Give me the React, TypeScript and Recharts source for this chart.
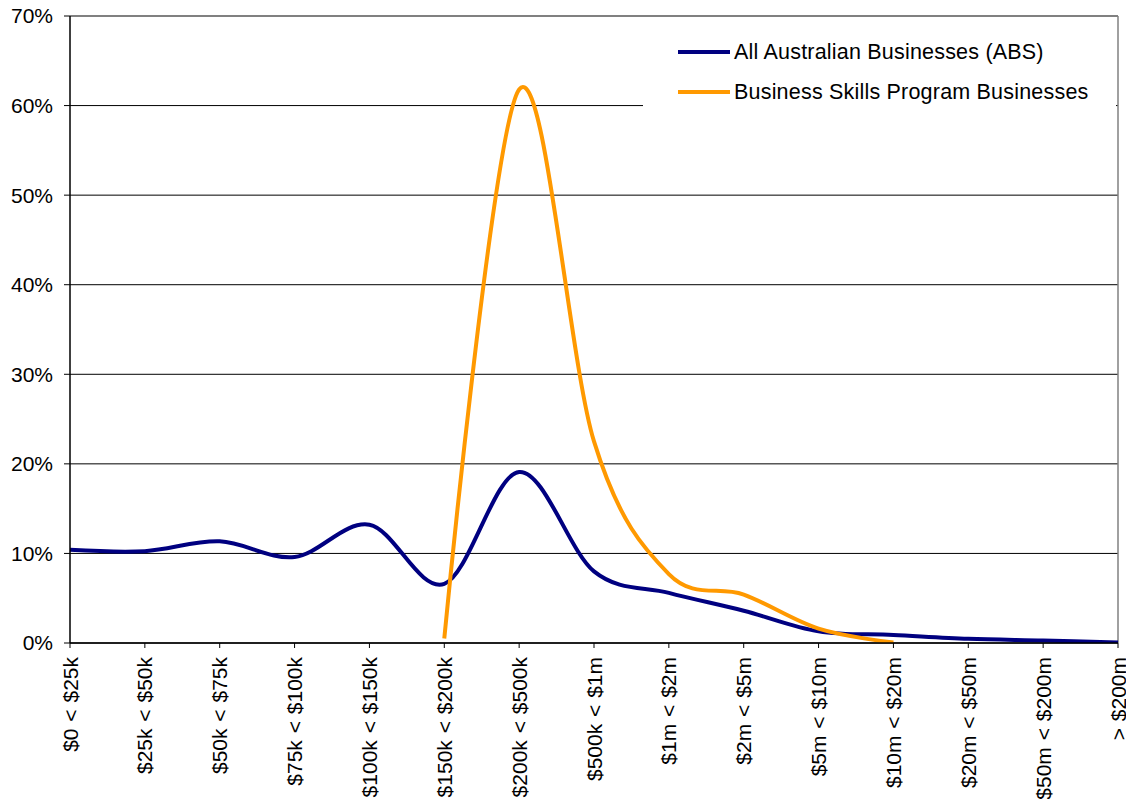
import React from "react";
import {
  LineChart,
  Line,
  XAxis,
  YAxis,
  CartesianGrid,
  Legend,
  ReferenceLine,
} from "recharts";

const categories = [
  "$0 < $25k",
  "$25k < $50k",
  "$50k < $75k",
  "$75k < $100k",
  "$100k < $150k",
  "$150k < $200k",
  "$200k < $500k",
  "$500k < $1m",
  "$1m < $2m",
  "$2m < $5m",
  "$5m < $10m",
  "$10m < $20m",
  "$20m < $50m",
  "$50m < $200m",
  "> $200m",
];

const absValues = [10.4, 10.25, 11.35, 9.6, 13.2, 6.6, 19.1, 8.0, 5.6, 3.6, 1.3, 0.9, 0.47, 0.28, 0.05];
const bspValues: (number | null)[] = [null, null, null, null, null, 0.5, 61.8, 22.5, 7.7, 5.4, 1.6, 0.05, null, null, null];

const yTicks = [0, 10, 20, 30, 40, 50, 60, 70];

const seriesNames = ["All Australian Businesses (ABS)", "Business Skills Program Businesses"];
const seriesColors = ["#000080", "#FF9900"];

const data = categories.map((c, i) => ({ cat: c, abs: absValues[i], bsp: bspValues[i] }));

const FONT = '"Liberation Sans", Arial, sans-serif';

// Catmull-Rom style smoothing (similar to Excel smoothed lines)
const smoothCurve = (context: any) => {
  let x0 = NaN, x1 = NaN, x2 = NaN, y0 = NaN, y1 = NaN, y2 = NaN;
  let pt = 0;
  let line: number = NaN;
  const k = 1 / 6;
  const seg = (x: number, y: number) =>
    context.bezierCurveTo(
      x1 + k * (x2 - x0),
      y1 + k * (y2 - y0),
      x2 + k * (x1 - x),
      y2 + k * (y1 - y),
      x2,
      y2
    );
  return {
    areaStart() { line = 0; },
    areaEnd() { line = NaN; },
    lineStart() { x0 = x1 = x2 = y0 = y1 = y2 = NaN; pt = 0; },
    lineEnd() {
      switch (pt) {
        case 2: context.lineTo(x2, y2); break;
        case 3: seg(x1, y1); break;
      }
      if (line || (line !== 0 && pt === 1)) context.closePath();
      line = 1 - line;
    },
    point(x: number, y: number) {
      x = +x; y = +y;
      switch (pt) {
        case 0: pt = 1; line ? context.lineTo(x, y) : context.moveTo(x, y); break;
        case 1: pt = 2; x1 = x; y1 = y; break;
        case 2: pt = 3; seg(x, y); break;
        default: seg(x, y); break;
      }
      x0 = x1; x1 = x2; x2 = x;
      y0 = y1; y1 = y2; y2 = y;
    },
  };
};

const XTick = (props: any) => {
  const { x, y, payload } = props;
  return (
    <g transform={`translate(${x},${y})`}>
      <text
        transform="rotate(-90)"
        textAnchor="end"
        dy="0.36em"
        fontSize={21}
        fontFamily={FONT}
        fill="#000"
        style={{ wordSpacing: 1 }}
      >
        {payload.value}
      </text>
    </g>
  );
};

const LegendContent = () => (
  <div
    style={{
      background: "#fff",
      width: "100%",
      height: "100%",
      boxSizing: "border-box",
      paddingTop: 12,
      paddingLeft: 35,
      fontFamily: FONT,
      fontSize: 21.5,
      letterSpacing: 0.2,
      color: "#000",
    }}
  >
    {seriesNames.map((n, i) => (
      <div key={n} style={{ display: "flex", alignItems: "center", height: 40, whiteSpace: "nowrap" }}>
        <svg width={56} height={10} style={{ display: "block" }}>
          <line x1={0} y1={5} x2={52} y2={5} stroke={seriesColors[i]} strokeWidth={4} />
        </svg>
        <span>{n}</span>
      </div>
    ))}
  </div>
);

export default function App() {
  return (
    <div style={{ position: "absolute", left: 0, top: 0, background: "#fff" }}>
      <LineChart
        width={1126}
        height={799}
        data={data}
        margin={{ top: 16, right: 8, left: 0, bottom: 0 }}
      >
        <CartesianGrid horizontal vertical={false} stroke="#000" strokeOpacity={1} />
        <XAxis
          dataKey="cat"
          scale="point"
          interval={0}
          height={156}
          tickSize={5}
          tickMargin={9}
          tick={<XTick />}
          axisLine={{ stroke: "#000", strokeWidth: 1.5 }}
          tickLine={{ stroke: "#000" }}
        />
        <YAxis
          domain={[0, 70]}
          ticks={yTicks}
          width={70}
          tickSize={6}
          tickMargin={11}
          tickFormatter={(v: number) => `${v}%`}
          tick={{ fontSize: 21, fontFamily: FONT, fill: "#000" }}
          axisLine={{ stroke: "#000", strokeWidth: 1.5 }}
          tickLine={{ stroke: "#000" }}
          allowDataOverflow
        />
        <ReferenceLine y={70} stroke="#808080" strokeWidth={1.5} />
        <ReferenceLine x={categories[categories.length - 1]} stroke="#808080" strokeWidth={1.5} />
        <Legend
          layout="horizontal"
          verticalAlign="middle"
          align="center"
          content={<LegendContent />}
          wrapperStyle={{ left: 643, top: 20, width: 473, height: 95 }}
        />
        <Line
          dataKey="abs"
          name={seriesNames[0]}
          type={smoothCurve as any}
          stroke={seriesColors[0]}
          strokeWidth={4}
          dot={false}
          activeDot={false}
          isAnimationActive={false}
        />
        <Line
          dataKey="bsp"
          name={seriesNames[1]}
          type={smoothCurve as any}
          stroke={seriesColors[1]}
          strokeWidth={4}
          dot={false}
          activeDot={false}
          isAnimationActive={false}
        />
      </LineChart>
    </div>
  );
}
